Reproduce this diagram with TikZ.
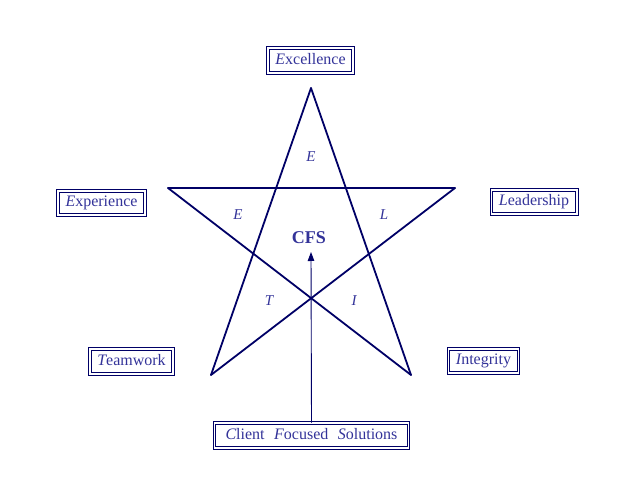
\documentclass[tikz,border=0pt]{standalone}
\usepackage{fontspec}
\setmainfont{Liberation Serif}
\usetikzlibrary{arrows.meta}
\definecolor{starline}{HTML}{000066}
\definecolor{txt}{HTML}{333399}
\begin{document}
\begin{tikzpicture}[x=1pt,y=-1pt,
  starstroke/.style={draw=starline,line width=1.8pt,line cap=round,line join=round},
  lbox/.style={draw=starline,double=white,double distance=1.8pt,line width=1pt,
    text=txt,font=\fontsize{16}{18}\selectfont,inner xsep=7.5pt,inner ysep=5pt,
    text height=11pt,text depth=3.5pt},
  inletter/.style={text=txt,font=\fontsize{15}{17}\selectfont\itshape},
  arrowline/.style={draw=starline,line width=0.9pt,-{Triangle[length=9pt,width=6.5pt]}}]
\useasboundingbox (0,0) rectangle (635,502);
\coordinate (A) at (311,88);
\coordinate (L) at (168,188);
\coordinate (R) at (455,188);
\coordinate (BL) at (211,375);
\coordinate (BR) at (411,375);
\draw[starstroke] (A) -- (BL);
\draw[starstroke] (A) -- (BR);
\draw[starstroke] (L) -- (R);
\draw[starstroke] (L) -- (BR);
\draw[starstroke] (R) -- (BL);
\node[lbox] (exc) at (310.5,60.5) {{\itshape E}xcellence};
\node[lbox] (exp) at (101.5,203) {{\itshape E}xperience};
\node[lbox] (lea) at (534,202) {{\itshape L}eadership};
\node[lbox] (tea) at (131.5,361.5) {{\itshape T}eamwork};
\node[lbox] (int) at (483.5,361) {{\itshape I}ntegrity};
\node[lbox,inner xsep=11pt] (cfs) at (311.5,435.5) {{\itshape C}lient\hspace{9.5pt}{\itshape F}ocused\hspace{9.5pt}{\itshape S}olutions};
\node[inletter] (le1) at (311,157) {E};
\node[inletter] (le2) at (238,215) {E};
\node[inletter] (ll) at (384,215) {L};
\node[inletter] (lt) at (269,301) {T};
\node[inletter] (li) at (354,301) {I};
\node[text=txt,font=\fontsize{18}{20}\selectfont\bfseries] (c) at (309,238) {CFS};
\coordinate (tip) at (311,252);
\draw[arrowline] (cfs.north) -- (tip);
\end{tikzpicture}
\end{document}
